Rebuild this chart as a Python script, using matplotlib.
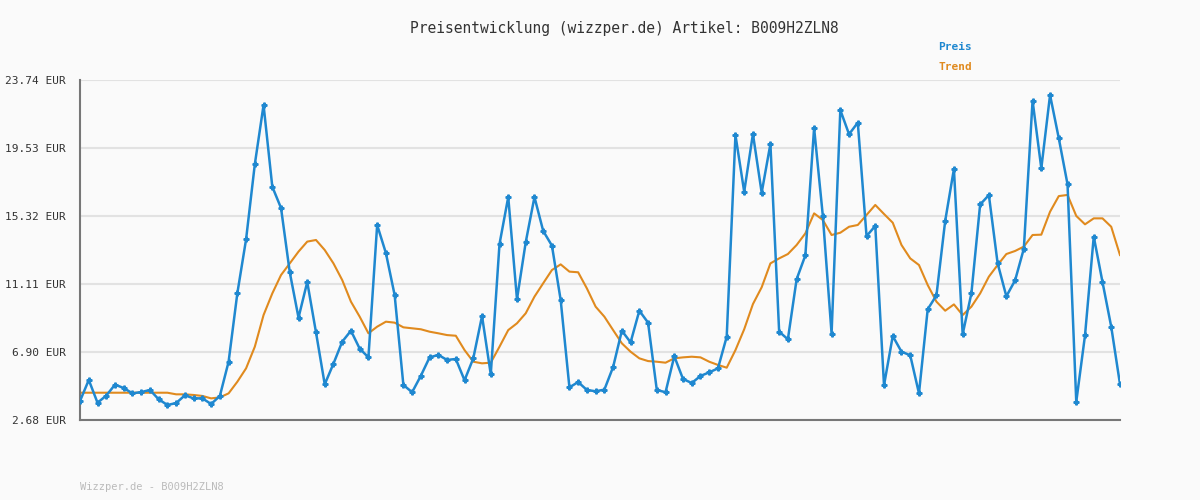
import matplotlib
matplotlib.use("Agg")
import matplotlib.pyplot as plt

preis = [3.86,5.16,3.75,4.19,4.87,4.66,4.33,4.41,4.54,3.96,3.61,3.73,4.21,4.02,4.02,3.67,4.17,6.29,10.53,13.87,
         18.52,22.19,17.13,15.81,11.83,9.02,11.23,8.11,4.89,6.17,7.53,8.21,7.10,6.56,14.76,13.02,10.42,4.85,4.40,5.42,
         6.56,6.71,6.40,6.46,5.14,6.50,9.12,5.51,13.58,16.49,10.16,13.69,16.49,14.39,13.48,10.11,4.70,5.03,4.54,4.46,
         4.56,5.96,8.21,7.49,9.45,8.71,4.54,4.40,6.63,5.22,4.97,5.41,5.63,5.88,7.84,20.33,16.82,20.40,16.76,19.78,
         8.15,7.68,11.40,12.88,20.77,15.32,8.03,21.88,20.38,21.10,14.07,14.70,4.83,7.88,6.91,6.69,4.33,9.54,10.40,15.01,
         18.23,7.99,10.53,16.03,16.61,12.39,10.34,11.33,13.29,22.46,18.27,22.81,20.13,17.28,3.81,7.92,14.04,11.23,8.46,4.91]
trend = [4.37]*11 + [4.27,4.27,4.23,4.17,4.02,4.08,4.33,
         5.05,5.88,7.22,9.18,10.52,11.66,12.38,13.11,13.73,13.83,13.21,12.38,11.35,10.01,9.08,8.05,8.46,8.77,8.71,8.42,8.36,8.30,
         8.15,8.05,7.94,7.90,7.01,6.29,6.19,6.23,7.22,8.25,8.67,9.29,10.32,11.15,11.97,12.32,11.87,11.83,10.83,9.70,
         9.08,8.25,7.43,6.91,6.50,6.33,6.29,6.23,6.50,6.56,6.60,6.56,6.29,6.09,5.92,7.01,8.30,9.86,10.90,12.38,
         12.69,12.96,13.52,14.24,15.48,15.07,14.14,14.28,14.65,14.76,15.38,16.00,15.44,14.90,13.52,12.69,12.28,11.04,10.01,9.45,
         9.84,9.18,9.70,10.52,11.56,12.28,12.96,13.15,13.42,14.14,14.16,15.58,16.55,16.62,15.32,14.80,15.17,15.17,14.65,12.90]
yticks = [2.68, 6.90, 11.11, 15.32, 19.53, 23.74]
ytick_labels = ["2.68 EUR", "6.90 EUR", "11.11 EUR", "15.32 EUR", "19.53 EUR", "23.74 EUR"]

plt.rcParams['font.family'] = ['DejaVu Sans Mono']
fig = plt.figure(figsize=(12, 5), dpi=100, facecolor='#fafafa')
ax = fig.add_axes([0.0667, 0.16, 0.8666, 0.68], facecolor='#fafafa')
x = list(range(len(preis)))
ax.plot(x, trend, color='#e08a1e', lw=1.5, zorder=2)
ax.plot(x, preis, color='#1f88d0', lw=1.8, marker='P', ms=3.5, zorder=3)
ax.set_xlim(0, len(preis) - 1)
ax.set_ylim(yticks[0], yticks[-1])
ax.set_yticks(yticks)
ax.set_yticklabels(ytick_labels, fontsize=8, color='#333333')
ax.set_xticks([])
ax.yaxis.grid(True, color='#e2e2e2', lw=1.5)
ax.set_axisbelow(True)
for s in ['top', 'right']:
    ax.spines[s].set_visible(False)
for s in ['left', 'bottom']:
    ax.spines[s].set_color('#777777')
    ax.spines[s].set_linewidth(1.5)
ax.tick_params(axis='y', length=0, pad=10)
fig.text(0.52, 0.944, "Preisentwicklung (wizzper.de) Artikel: B009H2ZLN8", ha='center', va='center', fontsize=10.5, color='#333333')
fig.text(0.782, 0.906, "Preis", fontsize=8, color='#1f88d0', weight='bold', va='center')
fig.text(0.782, 0.866, "Trend", fontsize=8, color='#e08a1e', weight='bold', va='center')
fig.text(0.0667, 0.026, "Wizzper.de - B009H2ZLN8", fontsize=7.5, color='#bbbbbb', va='center')
fig.savefig("out.png", dpi=100, facecolor=fig.get_facecolor())
